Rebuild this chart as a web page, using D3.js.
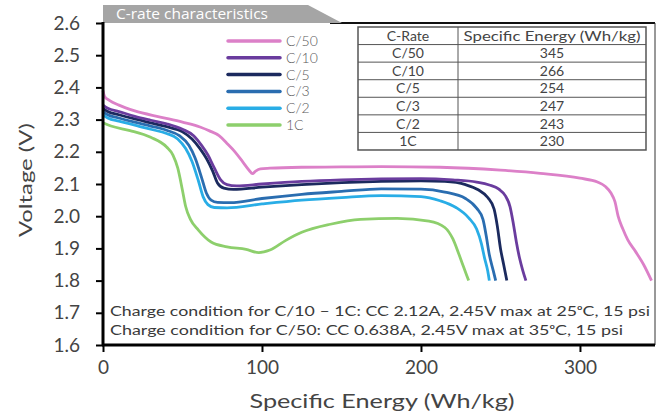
<!DOCTYPE html>
<html>
<head>
<meta charset="utf-8">
<script src="https://cdn.jsdelivr.net/npm/d3@7"></script>
<style>
  body { margin: 0; background: #fff; }
  svg { display: block; }
</style>
</head>
<body>
<div id="chart"></div>
<script>
// ---- data ----
var rates  = ["C/50", "C/10", "C/5", "C/3", "C/2", "1C"];
var energy = [345, 266, 254, 247, 243, 230];   // table values, Wh/kg
var xTicks = [0, 100, 200, 300];
var yTicks = [1.6, 1.7, 1.8, 1.9, 2.0, 2.1, 2.2, 2.3, 2.4, 2.5, 2.6];

// discharge curves: [specific energy (Wh/kg), voltage (V)]
var c50 = [[0,2.39],[1,2.372],[4,2.36],[10,2.345],[20,2.327],[36,2.308],[50,2.292],[61,2.277],
  [67,2.265],[73,2.25],[78,2.226],[83,2.2],[88,2.168],[92,2.142],[94,2.132],[96,2.14],[99,2.147],
  [105,2.149],[125,2.152],[150,2.153],[175,2.154],[212,2.152],[250,2.143],[275,2.133],[300,2.118],
  [311,2.106],[316,2.092],[319.5,2.072],[322,2.045],[324,2.0],[327,1.96],[330,1.927],[335,1.89],
  [340,1.85],[345,1.8]];
var c10 = [[0,2.345],[3,2.335],[10,2.325],[20,2.31],[30,2.298],[40,2.287],[50,2.27],[57,2.25],
  [62,2.22],[66,2.19],[70,2.15],[74,2.113],[78,2.098],[84,2.094],[100,2.1],[125,2.108],[150,2.113],
  [175,2.116],[200,2.117],[220,2.113],[235,2.106],[243,2.097],[249,2.084],[253,2.064],[256,2.03],
  [258,1.98],[260,1.92],[262,1.87],[264,1.832],[266,1.8]];
var c5 = [[0,2.335],[3,2.325],[10,2.315],[20,2.302],[30,2.29],[40,2.278],[50,2.262],[56,2.24],
  [61,2.21],[65,2.18],[69,2.14],[72,2.103],[76,2.087],[82,2.083],[100,2.09],[125,2.098],[150,2.104],
  [175,2.108],[200,2.11],[215,2.108],[228,2.098],[236,2.082],[242,2.058],[246,2.022],[248,1.97],
  [250,1.9],[252,1.85],[254,1.8]];
var c3 = [[0,2.325],[3,2.315],[10,2.305],[20,2.292],[30,2.28],[40,2.267],[48,2.25],[54,2.22],
  [58,2.18],[62,2.12],[65,2.072],[68,2.05],[72,2.043],[80,2.042],[100,2.055],[125,2.068],[150,2.077],
  [175,2.085],[200,2.084],[215,2.075],[228,2.055],[235,2.025],[239,1.99],[241,1.94],[243,1.88],
  [245.5,1.83],[247,1.8]];
var c2 = [[0,2.315],[3,2.305],[10,2.295],[20,2.283],[30,2.27],[40,2.257],[47,2.24],[52,2.21],
  [56,2.17],[60,2.11],[63,2.06],[66,2.036],[70,2.027],[78,2.026],[100,2.038],[125,2.05],[150,2.058],
  [175,2.064],[200,2.061],[212,2.048],[222,2.027],[230,1.995],[235,1.96],[238,1.915],[240,1.87],
  [242,1.83],[243,1.8]];
var c1 = [[0,2.29],[5,2.28],[17,2.266],[30,2.245],[40,2.215],[44,2.19],[47,2.15],[50,2.08],
  [52,2.03],[55,1.99],[60,1.957],[68,1.92],[78,1.905],[90,1.897],[98,1.887],[105,1.895],[115,1.925],
  [125,1.95],[143,1.975],[162,1.99],[185,1.993],[205,1.985],[215,1.965],[220,1.93],[224,1.88],
  [227,1.84],[230,1.8]];

var curves = [c50, c10, c5, c3, c2, c1];
var colors = ["#dc80c8", "#6a3c9e", "#1b2a5e", "#2a6db0", "#29ade6", "#8dcf6c"];

var notes = [
  "Charge condition for C/10 \u2013 1C: CC 2.12A, 2.45V max at 25\u1d52C, 15 psi",
  "Charge condition for C/50: CC 0.638A, 2.45V max at 35\u1d52C, 15 psi"
];

// ---- layout ----
var W = 661, H = 419;
var font = "Lato, 'Open Sans', sans-serif";
var textCol = "#3a3a3a";

var svg = d3.select("#chart").append("svg")
  .attr("width", W).attr("height", H)
  .style("font-family", font);

svg.append("rect").attr("width", W).attr("height", H).attr("fill", "#fff");

var x = d3.scaleLinear().domain([0, 347.2]).range([103, 655]);
var y = d3.scaleLinear().domain([1.6, 2.6]).range([345, 23]);

// stretch a text to span a given width
function fit(t, w) {
  return t.attr("textLength", w).attr("lengthAdjust", "spacingAndGlyphs");
}

// frame (top and right)
svg.append("line").attr("x1", 330).attr("x2", x.range()[1])
  .attr("y1", y(2.6)).attr("y2", y(2.6))
  .attr("stroke", "#111").attr("stroke-width", 2);
svg.append("line").attr("x1", x.range()[1]).attr("x2", x.range()[1])
  .attr("y1", y(2.6)).attr("y2", y(1.6))
  .attr("stroke", "#333").attr("stroke-width", 1);

// title tab
svg.append("path")
  .attr("d", "M103,23 L103,5 L308,5 L342,23 Z")
  .attr("fill", "#a5a5a5");
fit(svg.append("text").attr("x", 116).attr("y", 19)
  .attr("fill", "#fff").style("font-size", "15px")
  .style("font-family", "'Open Sans', sans-serif")
  .text("C-rate characteristics"), 152);

// curves
var line = d3.line()
  .x(function(d) { return x(d[0]); })
  .y(function(d) { return y(d[1]); })
  .curve(d3.curveMonotoneX);

svg.append("g").selectAll("path")
  .data(d3.range(curves.length).reverse())
  .enter().append("path")
    .attr("d", function(i) { return line(curves[i]); })
    .attr("fill", "none")
    .attr("stroke", function(i) { return colors[i]; })
    .attr("stroke-width", 2.8)
    .attr("stroke-linejoin", "round");

// axes
var yAxis = svg.append("g")
  .attr("transform", "translate(" + x(0) + ",0)")
  .call(d3.axisLeft(y).tickValues(yTicks).tickFormat(d3.format(".1f")).tickSize(7).tickPadding(16));
var xAxis = svg.append("g")
  .attr("transform", "translate(0," + y(1.6) + ")")
  .call(d3.axisBottom(x).tickValues(xTicks).tickFormat(d3.format("d")).tickSize(7).tickPadding(9));

[yAxis, xAxis].forEach(function(a) {
  a.select(".domain").attr("stroke", "#000").attr("stroke-width", 3)
    .attr("d", a === yAxis ? "M0," + y(1.6) + "V" + (y(2.6) - 1) : "M" + (x(0) - 1) + ",0H" + x.range()[1]);
  a.selectAll(".tick line").attr("stroke", "#000").attr("stroke-width", 2);
  a.selectAll(".tick text").attr("fill", "#444")
    .style("font-size", "19px").style("font-family", font);
});

// axis titles
fit(svg.append("text")
  .attr("transform", "translate(32,180) rotate(-90)")
  .attr("text-anchor", "middle").attr("fill", "#444")
  .style("font-size", "17px")
  .text("Voltage (V)"), 114);
fit(svg.append("text")
  .attr("x", 382).attr("y", 408)
  .attr("text-anchor", "middle").attr("fill", "#444")
  .style("font-size", "18.5px")
  .text("Specific Energy (Wh/kg)"), 265);

// legend
var leg = svg.append("g").selectAll("g")
  .data(rates)
  .enter().append("g")
    .attr("transform", function(d, i) { return "translate(228," + (41 + i * 16.8) + ")"; });
leg.append("line").attr("x1", 0).attr("x2", 52)
  .attr("stroke", function(d, i) { return colors[i]; })
  .attr("stroke-width", 3.5).attr("stroke-linecap", "round");
leg.append("text").attr("x", 58).attr("dy", "0.35em")
  .attr("fill", "#5a5a5a").style("font-size", "14px").style("font-weight", 300)
  .text(function(d) { return d; });

// table
var tx0 = 358, tx1 = 458, tx2 = 646, ty0 = 27, rowH = 17.57;
var rows = [["C-Rate", "Specific Energy (Wh/kg)"]].concat(rates.map(function(r, i) { return [r, String(energy[i])]; }));
var tbl = svg.append("g");
tbl.append("rect").attr("x", tx0).attr("y", ty0)
  .attr("width", tx2 - tx0).attr("height", rowH * rows.length)
  .attr("fill", "#fff").attr("stroke", "#555").attr("stroke-width", 1.5);
tbl.selectAll("line.row").data(d3.range(1, rows.length))
  .enter().append("line").attr("class", "row")
    .attr("x1", tx0).attr("x2", tx2)
    .attr("y1", function(i) { return ty0 + i * rowH; })
    .attr("y2", function(i) { return ty0 + i * rowH; })
    .attr("stroke", "#555").attr("stroke-width", 1);
tbl.append("line").attr("x1", tx1).attr("x2", tx1)
  .attr("y1", ty0).attr("y2", ty0 + rowH * rows.length)
  .attr("stroke", "#555").attr("stroke-width", 1);
var cells = tbl.selectAll("g.r").data(rows).enter().append("g")
  .attr("transform", function(d, i) { return "translate(0," + (ty0 + (i + 0.5) * rowH) + ")"; });
cells.append("text").attr("x", (tx0 + tx1) / 2).attr("dy", "0.35em")
  .attr("text-anchor", "middle").attr("fill", "#444").style("font-size", "14px")
  .text(function(d) { return d[0]; });
cells.append("text").attr("x", (tx1 + tx2) / 2).attr("dy", "0.35em")
  .attr("text-anchor", "middle").attr("fill", "#444").style("font-size", "14px")
  .text(function(d) { return d[1]; });
fit(cells.filter(function(d, i) { return i === 0; }).select("text:nth-child(2)"), 177);

// charge condition notes
var noteW = [540, 513];
notes.forEach(function(n, i) {
  fit(svg.append("text").attr("x", 110).attr("y", 316 + i * 19)
    .attr("fill", textCol).style("font-size", "13.5px")
    .text(n), noteW[i]);
});
</script>
</body>
</html>
